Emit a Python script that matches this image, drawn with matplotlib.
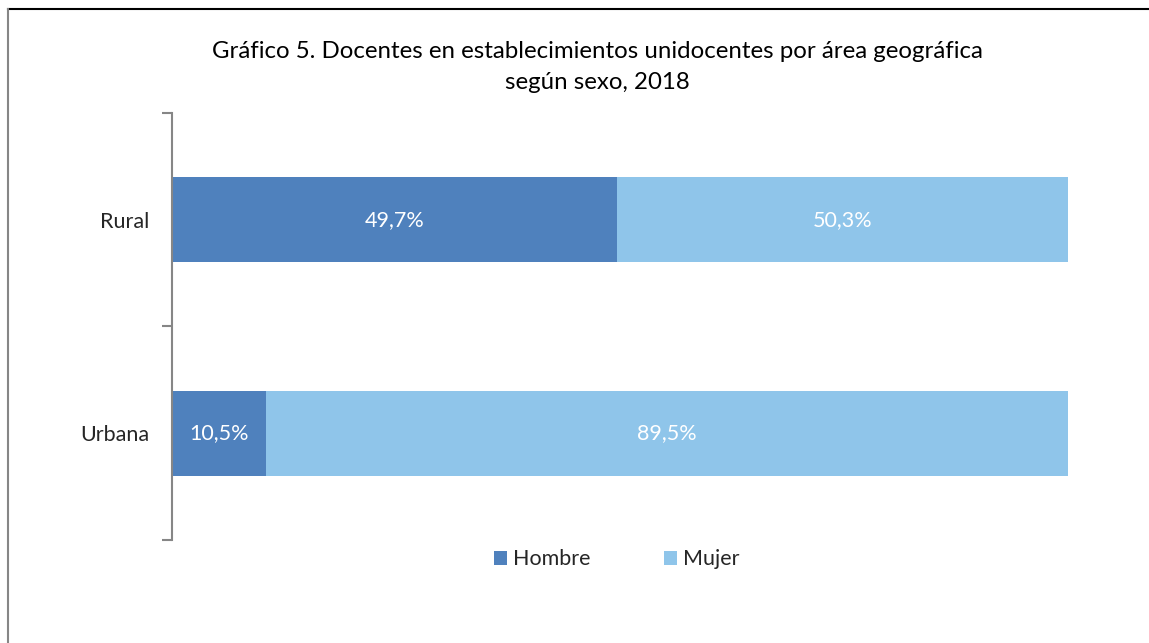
import matplotlib.pyplot as plt
from matplotlib.lines import Line2D

# Data
areas = ['Urbana', 'Rural']
hombre = [10.5, 49.7]
mujer = [89.5, 50.3]
series_names = ['Hombre', 'Mujer']
title = 'Gráfico 5. Docentes en establecimientos unidocentes por área geográfica\nsegún sexo, 2018'

c_hombre = '#4F81BD'
c_mujer = '#8FC5EA'

plt.rcParams['font.family'] = ['Lato', 'DejaVu Sans']

fig = plt.figure(figsize=(11.49, 6.43), dpi=100)
ax = fig.add_axes([0.1497, 0.1602, 0.7798, 0.6641])

pos = list(range(len(areas)))
b1 = ax.barh(pos, hombre, height=0.4, color=c_hombre, label=series_names[0])
b2 = ax.barh(pos, mujer, left=hombre, height=0.4, color=c_mujer, label=series_names[1])

# White percentage labels in the middle of each segment
for i in pos:
    ax.text(hombre[i] / 2, i, f'{hombre[i]:.1f}%'.replace('.', ','),
            ha='center', va='center', color='white', fontsize=15.5)
    ax.text(hombre[i] + mujer[i] / 2, i, f'{mujer[i]:.1f}%'.replace('.', ','),
            ha='center', va='center', color='white', fontsize=15.5)

ax.set_xlim(0, 100)
ax.set_ylim(-0.5, len(areas) - 0.5)

# Tick marks between categories, labels at category centres
ax.set_yticks([p - 0.5 for p in pos] + [len(areas) - 0.5])
ax.set_yticklabels([])
ax.set_yticks(pos, minor=True)
ax.set_yticklabels(areas, minor=True, fontsize=15.5, color='#262626')
ax.tick_params(axis='y', which='major', length=7, width=1.5, color='#868686')
ax.tick_params(axis='y', which='minor', length=0, pad=16.5)
ax.set_xticks([])

for s in ['top', 'right', 'bottom']:
    ax.spines[s].set_visible(False)
ax.spines['left'].set_color('#868686')
ax.spines['left'].set_linewidth(1.5)

fig.text(0.5196, 0.896, title, ha='center', va='center', fontsize=17.3,
         color='black', linespacing=1.55)

fig.legend(handles=[b1, b2], loc='center', bbox_to_anchor=(0.537, 0.13), ncol=2,
           frameon=False, fontsize=15.5, handlelength=0.6, handleheight=0.6,
           handletextpad=0.3, columnspacing=3.4, labelcolor='#262626')

# Frame of the chart area
fig.add_artist(Line2D([0.007, 1.0], [0.986, 0.986], color='black', lw=1.5))
fig.add_artist(Line2D([0.007, 0.007], [0.0, 0.986], color='#868686', lw=1.5))

fig.savefig('out.png', dpi=100)
